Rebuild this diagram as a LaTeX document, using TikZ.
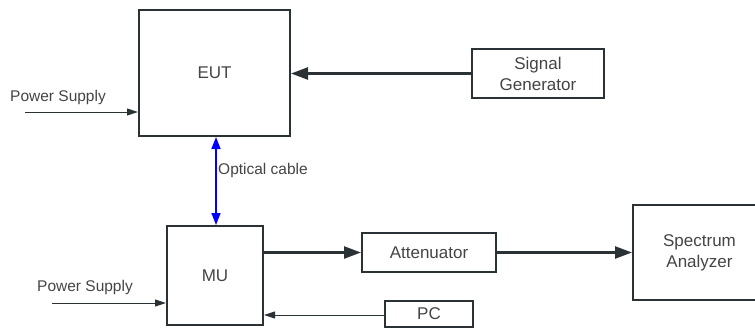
\documentclass[tikz,border=0pt]{standalone}
\usepackage{fontspec}
\setmainfont{Liberation Sans}
\usetikzlibrary{arrows.meta}
\definecolor{boxline}{HTML}{2B3236}
\definecolor{txt}{HTML}{444444}
\begin{document}
\begin{tikzpicture}[x=1pt,y=-1pt,line join=miter,
	blk/.style={draw=boxline,line width=2pt,text=txt,align=center,inner sep=0pt,
		font=\fontsize{17}{21}\selectfont},
	lbl/.style={text=txt,inner sep=0pt,anchor=west,font=\fontsize{15.5}{18}\selectfont},
	bigarr/.style={draw=boxline,line width=2.4pt,-{Triangle[length=17pt,width=12pt]}},
	thinarr/.style={draw=boxline,line width=1pt,-{Triangle[length=11pt,width=7pt]}},
	optarr/.style={draw=blue,line width=1.5pt,{Triangle[length=12pt,width=9pt]}-{Triangle[length=12pt,width=9pt]}}]
	\useasboundingbox (0,0) rectangle (755,329);
	% blocks
	\node[blk,minimum width=151pt,minimum height=126pt] (EUT) at (214.5,73) {EUT};
	\node[blk,minimum width=132pt,minimum height=49pt] (SG) at (538,73.5) {Signal\\Generator};
	\node[blk,minimum width=96pt,minimum height=99pt] (MU) at (215,275.5) {MU};
	\node[blk,minimum width=134pt,minimum height=39pt] (Att) at (429,252.5) {Attenuator};
	\node[blk,minimum width=133pt,minimum height=95pt] (SA) at (699.5,252.5) {Spectrum\\Analyzer};
	\node[blk,minimum width=88pt,minimum height=26pt] (PC) at (429,314) {PC};
	% free ends
	\path (25,112) coordinate (P1) (52,303) coordinate (P2);
	\node[lbl] (L1) at (10,97) {Power Supply};
	\node[lbl] (L2) at (37,287) {Power Supply};
	\node[lbl] (L3) at (218,170) {Optical cable};
	% connectors
	\draw[bigarr] (SG.west) -- (SG.west -| EUT.east);
	\draw[bigarr] (MU.east |- Att.west) -- (Att.west);
	\draw[bigarr] (Att.east) -- (Att.east -| SA.west);
	\draw[thinarr] (P1) -- (P1 -| EUT.west);
	\draw[thinarr] (P2) -- (P2 -| MU.west);
	\draw[thinarr] (PC.west |- 0,315) -- (MU.east |- 0,315);
	\draw[optarr] ([xshift=1pt]MU.north) -- ([xshift=1pt]MU.north |- EUT.south);
\end{tikzpicture}
\end{document}
